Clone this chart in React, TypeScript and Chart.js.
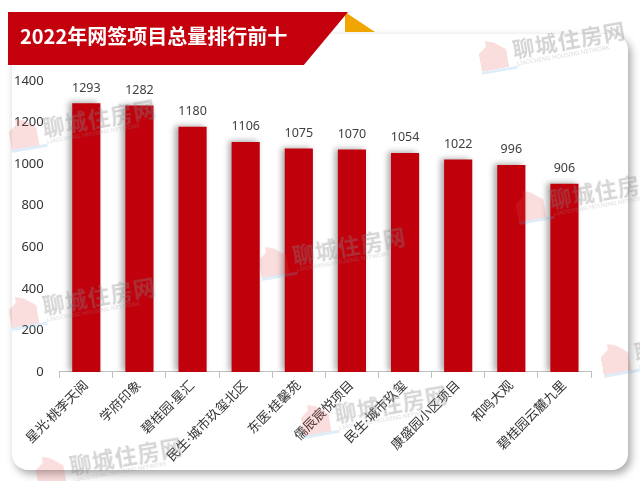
import React, { useEffect, useRef } from "react";
import { Chart, registerables } from "chart.js";

Chart.register(...registerables);

const title = "2022年网签项目总量排行前十";
const categories = [
  "星光·桃李天阅",
  "学府印象",
  "碧桂园·星汇",
  "民生·城市玖玺北区",
  "东医·桂馨苑",
  "儒辰宸悦项目",
  "民生·城市玖玺",
  "康盛园小区项目",
  "和鸣大观",
  "碧桂园云麓九里",
];
const values = [1293, 1282, 1180, 1106, 1075, 1070, 1054, 1022, 996, 906];
const yTicks = [0, 200, 400, 600, 800, 1000, 1200, 1400];

const FONT = "'Noto Sans', 'Noto Sans CJK SC', sans-serif";

const watermarks = [
  { x: 478, y: 22 },
  { x: 8, y: 100 },
  { x: 258, y: 228 },
  { x: 8, y: 278 },
  { x: 515, y: 172 },
  { x: 300, y: 386 },
  { x: 35, y: 438 },
  { x: 600, y: 325 },
];

function Watermark({ x, y }: { x: number; y: number }) {
  return (
    <div
      style={{
        position: "absolute",
        left: x,
        top: y,
        width: 140,
        height: 44,
        transform: "rotate(-10deg)",
        pointerEvents: "none",
        opacity: 0.35,
        zIndex: 3,
      }}
    >
      <div
        style={{
          position: "absolute",
          left: 0,
          top: 8,
          width: 28,
          height: 30,
          background: "rgba(230,80,80,0.55)",
          clipPath: "polygon(0 40%, 30% 20%, 30% 0, 60% 10%, 100% 40%, 100% 100%, 0 100%)",
        }}
      />
      <div
        style={{
          position: "absolute",
          left: 0,
          top: 38,
          width: 36,
          height: 3,
          background: "rgba(100,170,220,0.6)",
        }}
      />
      <div
        style={{
          position: "absolute",
          left: 34,
          top: 4,
          font: `bold 22px ${FONT}`,
          color: "#888",
          whiteSpace: "nowrap",
          letterSpacing: 1,
        }}
      >
        聊城住房网
      </div>
      <div
        style={{
          position: "absolute",
          left: 36,
          top: 32,
          font: `6px ${FONT}`,
          color: "#999",
          whiteSpace: "nowrap",
        }}
      >
        LIAOCHENG HOUSING NETWORK
      </div>
    </div>
  );
}

export default function App() {
  const canvasRef = useRef<HTMLCanvasElement>(null);

  useEffect(() => {
    document.body.style.margin = "0";
    const canvas = canvasRef.current;
    if (!canvas) return;

    const barShadow = {
      id: "barShadow",
      beforeDatasetDraw(chart: any) {
        const ctx = chart.ctx;
        ctx.save();
        ctx.shadowColor = "rgba(0,0,0,0.35)";
        ctx.shadowBlur = 6;
        ctx.shadowOffsetX = -3;
        ctx.shadowOffsetY = -1;
      },
      afterDatasetDraw(chart: any) {
        chart.ctx.restore();
      },
    };

    const valueLabels = {
      id: "valueLabels",
      afterDatasetsDraw(chart: any) {
        const ctx = chart.ctx;
        const meta = chart.getDatasetMeta(0);
        ctx.save();
        ctx.font = `12.5px ${FONT}`;
        ctx.fillStyle = "#404040";
        ctx.textAlign = "center";
        ctx.textBaseline = "bottom";
        meta.data.forEach((bar: any, i: number) => {
          ctx.fillText(String(values[i]), bar.x, bar.y - 9);
        });
        ctx.restore();
      },
    };

    const chart = new Chart(canvas, {
      type: "bar",
      data: {
        labels: categories,
        datasets: [
          {
            data: values,
            backgroundColor: "#C0000B",
            borderWidth: 0,
            barPercentage: 0.53,
            categoryPercentage: 1,
          },
        ],
      },
      options: {
        animation: false,
        responsive: false,
        maintainAspectRatio: false,
        layout: { padding: { left: 6, right: 29, top: 19, bottom: 0 } },
        plugins: {
          legend: { display: false },
          tooltip: { enabled: false },
          title: { display: false },
        },
        scales: {
          x: {
            grid: {
              display: true,
              drawOnChartArea: false,
              drawTicks: true,
              tickLength: 6,
              color: "#BFBFBF",
            },
            border: { display: true, color: "#BFBFBF" },
            ticks: {
              autoSkip: false,
              maxRotation: 45,
              minRotation: 45,
              color: "#333",
              font: { size: 13, family: FONT },
              padding: 0,
            },
          },
          y: {
            min: 0,
            max: 1400,
            afterBuildTicks(scale: any) {
              scale.ticks = yTicks.map((v) => ({ value: v }));
            },
            grid: { display: false },
            border: { display: false },
            ticks: {
              color: "#333",
              font: { size: 13, family: FONT },
              padding: 8,
              callback: (v: any) => String(v),
            },
          },
        },
      },
      plugins: [barShadow, valueLabels],
    });

    return () => chart.destroy();
  }, []);

  return (
    <div
      style={{
        position: "relative",
        width: 640,
        height: 481,
        background: "#fff",
        overflow: "hidden",
        fontFamily: FONT,
      }}
    >
      <div
        style={{
          position: "absolute",
          left: 12,
          top: 34,
          width: 616,
          height: 436,
          background: "#fff",
          borderRadius: 16,
          boxShadow: "3px 4px 8px rgba(0,0,0,0.35)",
        }}
      />
      <canvas
        ref={canvasRef}
        width={620}
        height={403}
        style={{ position: "absolute", left: 0, top: 62, zIndex: 2 }}
      />
      <div
        style={{
          position: "absolute",
          left: 345,
          top: 12,
          width: 30,
          height: 20,
          background: "#F0A500",
          clipPath: "polygon(0 0, 100% 100%, 0 100%)",
          zIndex: 4,
        }}
      />
      <div
        style={{
          position: "absolute",
          left: 8,
          top: 12,
          width: 340,
          height: 53,
          background: "#C3000B",
          clipPath: "polygon(0 0, 100% 0, 87% 100%, 0 100%)",
          zIndex: 5,
        }}
      />
      <div
        style={{
          position: "absolute",
          left: 20,
          top: 21,
          font: `bold 20px 'Noto Sans CJK SC', sans-serif`,
          color: "#fff",
          whiteSpace: "nowrap",
          zIndex: 6,
        }}
      >
        {title}
      </div>
      {watermarks.map((w, i) => (
        <Watermark key={i} x={w.x} y={w.y} />
      ))}
    </div>
  );
}
